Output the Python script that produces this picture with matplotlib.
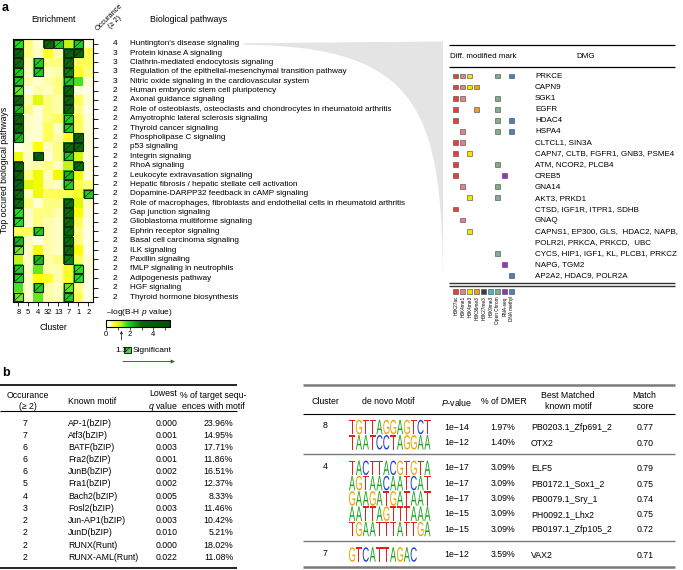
import numpy as np
import matplotlib
matplotlib.use("Agg")
import matplotlib.pyplot as plt
from matplotlib.colors import LinearSegmentedColormap, Normalize
from matplotlib.patches import Rectangle, PathPatch
from matplotlib.path import Path
from matplotlib.textpath import TextPath
from matplotlib.font_manager import FontProperties
from matplotlib.transforms import Affine2D
import matplotlib.cm as cm

plt.rcParams['font.family'] = ['Liberation Sans', 'DejaVu Sans']
plt.rcParams['mathtext.fontset'] = 'custom'
plt.rcParams['mathtext.rm'] = 'Liberation Sans'
plt.rcParams['mathtext.it'] = 'Liberation Sans:italic'

# ---------------- data: panel a heatmap ----------------
clusters = ['8', '5', '4', '32', '13', '7', '1', '2']
pathways = [
    "Huntington's disease signaling", "Protein kinase A signaling",
    "Clathrin-mediated endocytosis signaling",
    "Regulation of the epithelial-mesenchymal transition pathway",
    "Nitric oxide signaling in the cardiovascular system",
    "Human embryonic stem cell pluripotency", "Axonal guidance signaling",
    "Role of osteoblasts, osteoclasts and chondrocytes in rheumatoid arthritis",
    "Amyotrophic lateral sclerosis signaling", "Thyroid cancer signaling",
    "Phospholipase C signaling", "p53 signaling", "Integrin signaling",
    "RhoA signaling", "Leukocyte extravasation signaling",
    "Hepatic fibrosis / hepatic stellate cell activation",
    "Dopamine-DARPP32 feedback in cAMP signaling",
    "Role of macrophages, fibroblasts and endothelial cells in rheumatoid arthritis",
    "Gap junction signaling", "Glioblastoma multiforme signaling",
    "Ephrin receptor signaling", "Basal cell carcinoma signaling",
    "ILK signaling", "Paxillin signaling", "fMLP signaling in neutrophils",
    "Adipogenesis pathway", "HGF signaling", "Thyroid hormone biosynthesis",
]
occurrence = [4, 3, 3, 3, 3] + [2] * 23
enrich = [
    [1.8, 0.5, 0.2, 3.5, 2.0, 1.2, 2.0, 0.2],
    [3.5, 0.5, 0.3, 0.7, 0.4, 3.5, 3.5, 0.6],
    [3.0, 0.4, 2.0, 0.5, 0.5, 3.0, 0.6, 0.6],
    [2.0, 0.3, 2.0, 0.3, 0.4, 2.8, 0.7, 0.5],
    [2.0, 0.4, 0.2, 0.4, 0.5, 2.0, 1.7, 0.2],
    [1.6, 0.1, 0.4, 0.3, 0.5, 3.5, 0.2, 0.1],
    [3.5, 0.4, 1.0, 0.5, 0.4, 3.5, 0.6, 0.2],
    [2.2, 0.5, 0.2, 0.5, 0.4, 3.5, 0.5, 0.1],
    [3.5, 0.3, 0.2, 0.5, 0.6, 2.0, 0.6, 0.2],
    [3.5, 0.3, 0.2, 0.6, 0.3, 2.0, 0.6, 0.2],
    [2.2, 0.2, 0.2, 0.6, 0.4, 0.7, 3.5, 0.2],
    [0.1, 0.3, 0.8, 0.3, 0.5, 3.0, 3.5, 0.2],
    [0.9, 0.3, 3.5, 0.2, 0.5, 2.0, 1.1, 0.2],
    [3.5, 0.3, 0.4, 0.5, 0.3, 1.2, 3.0, 0.2],
    [3.5, 0.5, 0.9, 0.3, 0.9, 2.2, 0.9, 0.2],
    [3.5, 1.0, 0.9, 0.4, 0.3, 2.0, 0.6, 0.5],
    [3.0, 0.3, 0.9, 0.6, 0.6, 0.6, 0.7, 2.0],
    [3.0, 0.5, 0.2, 0.5, 0.5, 3.0, 1.0, 0.3],
    [1.8, 0.3, 0.5, 0.5, 0.4, 3.0, 0.8, 0.2],
    [1.8, 0.2, 0.5, 0.4, 0.3, 3.0, 0.6, 0.1],
    [0.6, 0.6, 2.0, 0.4, 0.3, 3.0, 0.5, 0.1],
    [2.2, 0.3, 0.1, 0.4, 0.3, 3.0, 0.5, 0.1],
    [1.5, 0.3, 0.9, 0.4, 0.3, 3.0, 0.8, 0.1],
    [1.2, 0.3, 2.2, 0.4, 0.5, 2.8, 0.6, 0.2],
    [2.0, 0.3, 1.6, 0.4, 0.4, 0.7, 1.8, 0.2],
    [2.0, 0.3, 0.8, 0.7, 0.4, 0.7, 1.8, 0.1],
    [1.7, 0.3, 2.0, 0.4, 0.3, 1.6, 0.5, 0.1],
    [1.5, 0.2, 1.6, 0.4, 0.3, 2.0, 0.6, 0.1],
]
significant = [
    [1, 0, 0, 1, 1, 0, 1, 0], [1, 0, 0, 0, 0, 1, 1, 0], [1, 0, 1, 0, 0, 1, 0, 0],
    [1, 0, 1, 0, 0, 1, 0, 0], [1, 0, 0, 0, 0, 1, 0, 0], [1, 0, 0, 0, 0, 1, 0, 0],
    [1, 0, 0, 0, 0, 1, 0, 0], [1, 0, 0, 0, 0, 1, 0, 0], [1, 0, 0, 0, 0, 1, 0, 0],
    [1, 0, 0, 0, 0, 1, 0, 0], [1, 0, 0, 0, 0, 0, 1, 0], [0, 0, 0, 0, 0, 1, 1, 0],
    [0, 0, 1, 0, 0, 1, 0, 0], [1, 0, 0, 0, 0, 0, 1, 0], [1, 0, 0, 0, 0, 1, 0, 0],
    [1, 0, 0, 0, 0, 1, 0, 0], [1, 0, 0, 0, 0, 0, 0, 1], [1, 0, 0, 0, 0, 1, 0, 0],
    [1, 0, 0, 0, 0, 1, 0, 0], [1, 0, 0, 0, 0, 1, 0, 0], [0, 0, 1, 0, 0, 1, 0, 0],
    [1, 0, 0, 0, 0, 1, 0, 0], [1, 0, 0, 0, 0, 1, 0, 0], [0, 0, 1, 0, 0, 1, 0, 0],
    [1, 0, 0, 0, 0, 0, 1, 0], [1, 0, 0, 0, 0, 0, 1, 0], [0, 0, 1, 0, 0, 1, 0, 0],
    [1, 0, 0, 0, 0, 1, 0, 0],
]
sig_threshold = 1.3
cbar_ticks = [0, 1, 2, 3, 4, 5]
cbar_ticklabels = ['0', '', '2', '', '4', '']

# ---------------- data: panel a DMG table ----------------
marks = ['H3K27ac', 'H3K4me1', 'H3K4me3', 'H3K36me3', 'H3K27me3', 'H3K9me3',
         'Open Chrom', 'RNA-seq', 'DNA methyl']
mark_colors = ['#e8413c', '#e38089', '#f4e300', '#f0a020', '#3c3c3c',
               '#3fb5d5', '#7fae8c', '#9b30c8', '#4a7fc0']
dmg_genes = ['PRKCE', 'CAPN9', 'SGK1', 'EGFR', 'HDAC4', 'HSPA4', 'CLTCL1, SIN3A',
             'CAPN7, CLTB, FGFR1, GNB3, PSME4', 'ATM, NCOR2, PLCB4', 'CREB5',
             'GNA14', 'AKT3, PRKD1', 'CTSD, IGF1R, ITPR1, SDHB', 'GNAQ',
             'CAPNS1, EP300, GLS,  HDAC2, NAPB,\nPOLR2I, PRKCA, PRKCD,  UBC',
             'CYCS, HIP1, IGF1, KL, PLCB1, PRKCZ', 'NAPG, TGM2',
             'AP2A2, HDAC9, POLR2A']
dmg_marks = [[0, 1, 2, 6, 8], [0, 1, 2, 3], [0, 1, 6], [0, 3, 6], [0, 6, 8],
             [1, 6, 8], [0, 1], [0, 2], [0, 6], [0, 7], [1, 6], [2, 6], [0],
             [1], [2], [6], [7], [8]]

# ---------------- data: panel b known motifs ----------------
known_occ = [7, 7, 6, 6, 6, 5, 4, 3, 2, 2, 2, 2]
known_motif = ['AP-1(bZIP)', 'Atf3(bZIP)', 'BATF(bZIP)', 'Fra2(bZIP)',
               'JunB(bZIP)', 'Fra1(bZIP)', 'Bach2(bZIP)', 'Fosl2(bZIP)',
               'Jun-AP1(bZIP)', 'JunD(bZIP)', 'RUNX(Runt)', 'RUNX-AML(Runt)']
known_q = [0.000, 0.001, 0.003, 0.001, 0.002, 0.002, 0.005, 0.003, 0.003,
           0.010, 0.000, 0.022]
known_pct = [23.96, 14.95, 17.71, 11.86, 16.51, 12.37, 8.33, 11.46, 10.42,
             5.21, 18.02, 11.08]

# ---------------- data: panel b de novo motifs ----------------
denovo_cluster = ['8', '4', '7']
denovo_groups = [2, 5, 1]
denovo_seq = ['TGTTAGGAGTCT', 'TAATCCTAGGAA', 'TACTTACGTGTA', 'AGTAACAATCAT',
              'GAAGATGATAAT', 'AATTAGTTTAAA', 'TGAATTTATTGA', 'GTCATTAGAC']
denovo_pexp = [-14, -12, -17, -17, -17, -15, -15, -12]
denovo_dmer = [1.97, 1.40, 3.09, 3.09, 3.09, 3.09, 3.09, 3.59]
denovo_best = ['PB0203.1_Zfp691_2', 'OTX2', 'ELF5', 'PB0172.1_Sox1_2',
               'PB0079.1_Sry_1', 'PH0092.1_Lhx2', 'PB0197.1_Zfp105_2', 'VAX2']
denovo_score = [0.77, 0.70, 0.79, 0.75, 0.74, 0.75, 0.72, 0.71]
base_colors = {'A': '#19a319', 'C': '#1f3fe0', 'G': '#f0a400', 'T': '#e0201e'}

# =====================================================================
W, H = 683, 570
fig = plt.figure(figsize=(W / 100, H / 100), dpi=100)
ov = fig.add_axes([0, 0, 1, 1])
ov.set_xlim(0, W)
ov.set_ylim(H, 0)
ov.axis('off')


def T(x, y, s, size=6.3, ha='left', va='center', **kw):
    ov.text(x, y, s, fontsize=size, ha=ha, va=va, **kw)


def hline(x0, x1, y, lw=0.8, color='black'):
    ov.plot([x0, x1], [y, y], color=color, lw=lw, solid_capstyle='butt')


T(2, 8, 'a', size=9, weight='bold')
T(2, 373, 'b', size=9, weight='bold')

# grey wedge
verts = [(244, 43.2), (443, 41.5), (443, 290), (443, 110), (420, 46), (244, 44.8), (244, 43.2)]
codes = [Path.MOVETO, Path.LINETO, Path.LINETO, Path.CURVE4, Path.CURVE4, Path.CURVE4, Path.CLOSEPOLY]
ov.add_patch(PathPatch(Path(verts, codes), fc='#e4e4e4', ec='none', zorder=0))

# ---------------- heatmap ----------------
vmax = 5.4
cmap = LinearSegmentedColormap.from_list('enr', [
    (0.0, '#fffff4'), (0.35 / vmax, '#ffffb8'), (0.8 / vmax, '#ffff00'),
    (1.3 / vmax, '#b8f020'), (1.8 / vmax, '#22e022'), (2.4 / vmax, '#18a018'),
    (3.0 / vmax, '#0a6a0a'), (1.0, '#004d00')])
norm = Normalize(0, vmax)
x0, y0, hw, hh = 13.3, 39.0, 80.0, 262.7
ax = fig.add_axes([x0 / W, 1 - (y0 + hh) / H, hw / W, hh / H])
E = np.array(enrich)
nr, nc = E.shape
ax.pcolormesh(np.arange(nc + 1), np.arange(nr + 1), E, cmap=cmap, norm=norm)
ax.set_xlim(0, nc)
ax.set_ylim(nr, 0)
for i in range(nr):
    for j in range(nc):
        if significant[i][j]:
            ax.add_patch(Rectangle((j + 0.06, i + 0.06), 0.88, 0.88, fill=False,
                                   ec='#102810', lw=0.8))
            ax.plot([j + 0.1, j + 0.9], [i + 0.9, i + 0.1], color='#102810', lw=0.5)
for s in ax.spines.values():
    s.set_linewidth(0.8)
ax.set_xticks(np.arange(nc) + 0.5)
ax.set_xticklabels(clusters, fontsize=5.5)
ax.set_yticks(np.arange(nr) + 0.5)
ax.tick_params(axis='y', left=False, right=True, labelleft=False, length=3.5, width=0.6)
ax.tick_params(axis='x', length=3, width=0.6, pad=2)
tr = ax.get_yaxis_transform()
for i in range(nr):
    ax.text((115 - x0) / hw, i + 0.5, str(occurrence[i]), transform=tr,
            fontsize=6, ha='center', va='center')
    ax.text((130 - x0) / hw, i + 0.5, pathways[i], transform=tr,
            fontsize=5.9, ha='left', va='center')

T(53, 20, 'Enrichment', size=6.3, ha='center')
T(112, 20, 'Occurance\n(≥ 2)', size=5.3, ha='center', rotation=45, linespacing=1.0)
T(150, 20, 'Biological pathways', size=6.3)
T(53, 327, 'Cluster', size=6.3, ha='center')
T(5, 170, 'Top occured biological pathways', size=6.3, ha='center', rotation=90)

# colorbar
cax = fig.add_axes([106 / W, 1 - 327 / H, 64 / W, 7 / H])
cb = fig.colorbar(cm.ScalarMappable(norm=norm, cmap=cmap), cax=cax,
                  orientation='horizontal', ticks=cbar_ticks)
cb.ax.set_xticklabels(cbar_ticklabels)
cb.ax.tick_params(labelsize=5.5, length=2, width=0.5, pad=1)
cb.outline.set_linewidth(0.8)
T(106, 313, '–log(B-H $p$ value)', size=6)
ax_pos = 106 + 64 * sig_threshold / vmax
ov.annotate('', xy=(ax_pos, 331), xytext=(ax_pos, 340),
            arrowprops=dict(arrowstyle='->', lw=0.5, shrinkA=0, shrinkB=0,
                            mutation_scale=4))
T(115, 350, str(sig_threshold), size=6)
ov.add_patch(Rectangle((124, 346.5), 6.5, 6.5, fc='#4cd24c', ec='#102810', lw=0.7))
ov.plot([124.6, 130], [352.5, 347], color='#102810', lw=0.5)
T(132.5, 350, 'Significant', size=6)
ov.annotate('', xy=(175, 361.5), xytext=(123, 361.5),
            arrowprops=dict(arrowstyle='-|>', lw=0.7, color='#2e6e2e',
                            shrinkA=0, shrinkB=0, mutation_scale=5))

# ---------------- DMG table ----------------
tx0, tx1 = 449, 675
hline(tx0, tx1, 45, lw=0.9)
T(450, 57, 'Diff. modified mark', size=5.8)
T(586, 57, 'DMG', size=5.8, ha='center')
hline(tx0, tx1, 67, lw=0.9)
mx0, mstep, ms = 455.7, 7.0, 4.8
yy = 76.0
step = 11.08
for g, mk in zip(dmg_genes, dmg_marks):
    for k in mk:
        c = mark_colors[k]
        ov.add_patch(Rectangle((mx0 + k * mstep - ms / 2, yy - ms / 2), ms, ms,
                               fc=c, ec='#444444', lw=0.4))
    for line in g.split('\n'):
        T(535, yy + 0.3, line, size=5.8)
        yy += step
hline(tx0, tx1, 282.8, lw=1.0, color='#333333')
hline(tx0, tx1, 285.8, lw=1.0, color='#333333')
for k, (m, c) in enumerate(zip(marks, mark_colors)):
    xc = mx0 + k * mstep
    ov.add_patch(Rectangle((xc - ms / 2, 291.5 - ms / 2), ms, ms, fc=c,
                           ec='#444444', lw=0.4))
    T(xc, 296, m, size=3.4, ha='center', va='top', rotation=90)

# ---------------- panel b: known motifs ----------------
hline(0, 237, 385, lw=1.2)
hline(0, 237, 411, lw=0.8)
hline(0, 237, 568, lw=1.2)
T(28, 401, 'Occurance\n(≥ 2)', ha='center', linespacing=1.3)
T(68, 401, 'Known motif')
T(163, 401, 'Lowest\n$q$ value', ha='center', linespacing=1.3)
T(213, 401, '% of target sequ-\nences with motif', ha='center', linespacing=1.3)
for i in range(len(known_motif)):
    y = 423 + i * 12.2
    T(25, y, str(known_occ[i]), ha='center')
    T(68, y, known_motif[i])
    T(178, y, f'{known_q[i]:.3f}', ha='right')
    T(233, y, f'{known_pct[i]:.2f}%', ha='right')

# ---------------- panel b: de novo motifs ----------------
hline(303, 675, 385, lw=1.8, color='#7a7a7a')
hline(303, 675, 414, lw=0.8)
hline(303, 675, 567, lw=1.8, color='#7a7a7a')
T(325, 402, 'Cluster', ha='center')
T(388, 402, 'de novo Motif', ha='center')
T(457, 402, '$P$-value', ha='center')
T(504, 402, '% of DMER', ha='center')
T(568, 401, 'Best Matched\nknown motif', ha='center', linespacing=1.3)
T(644, 401, 'Match\nscore', ha='center', linespacing=1.3)

fp = FontProperties(family='Liberation Sans')


def draw_logo(seq, x_left, y_mid, lw_step=6.85, lh=14.5):
    for n, ch in enumerate(seq):
        tp = TextPath((0, 0), ch, size=1, prop=fp)
        bb = tp.get_extents()
        w = lw_step * 0.9
        aff = (Affine2D().translate(-bb.x0, -bb.y0)
               .scale(w / bb.width, -lh / bb.height)
               .translate(x_left + n * lw_step, y_mid + lh / 2))
        ov.add_patch(PathPatch(tp.transformed(aff), fc=base_colors[ch], lw=0))


row = 0
y = 427.0
for gi, (cl, ng) in enumerate(zip(denovo_cluster, denovo_groups)):
    T(325, y - 1, cl, ha='center')
    for r in range(ng):
        draw_logo(denovo_seq[row], 349, y)
        T(457, y, f'1e−{abs(denovo_pexp[row])}', ha='center')
        T(503, y, f'{denovo_dmer[row]:.2f}%', ha='center')
        T(531, y + 1, denovo_best[row])
        T(645, y + 1, f'{denovo_score[row]:.2f}', ha='center')
        row += 1
        if r < ng - 1:
            y += 15.3
    if gi < len(denovo_groups) - 1:
        hline(303, 675, y + 12, lw=1.0, color='#7a7a7a')
        y += 25.5

fig.savefig('out.png', dpi=100)
